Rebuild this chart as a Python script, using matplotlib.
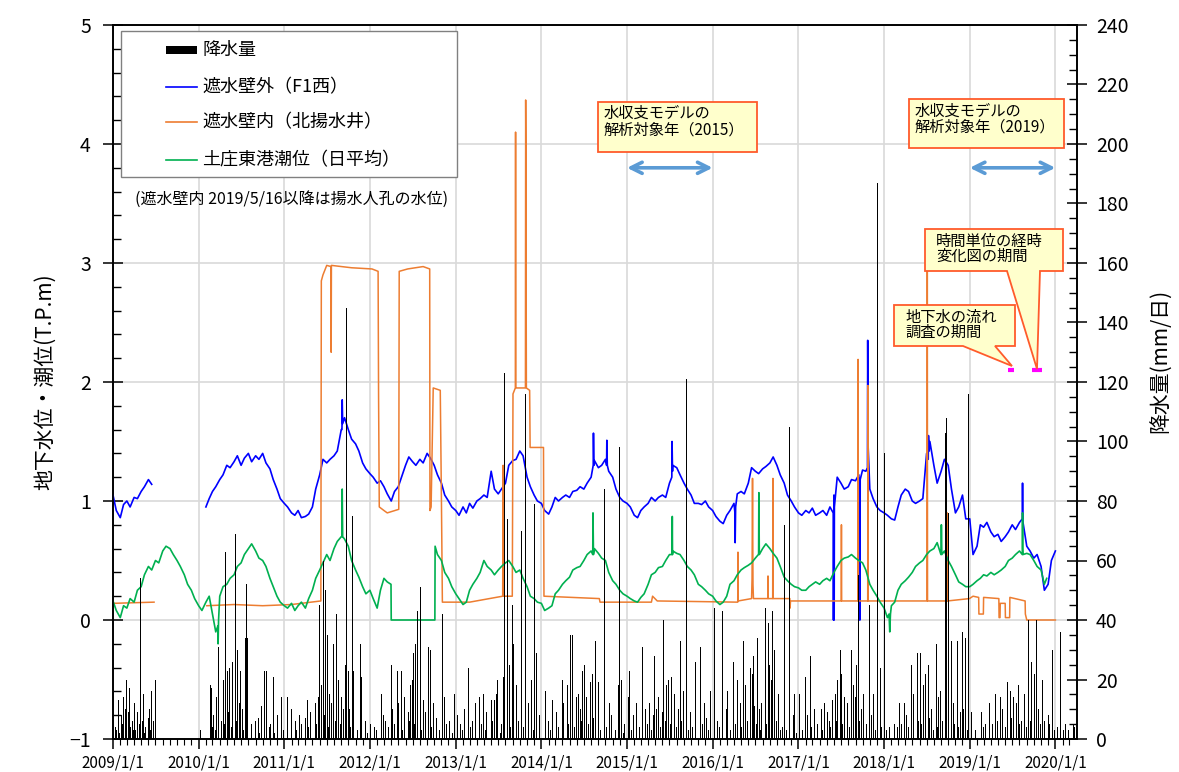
import numpy as np
import pandas as pd
import matplotlib
matplotlib.use("Agg")
import matplotlib.pyplot as plt
import matplotlib.dates as mdates
from matplotlib.patches import Rectangle, Polygon
from matplotlib.lines import Line2D

plt.rcParams['font.family'] = ['Noto Sans CJK JP', 'DejaVu Sans']

nan = np.nan

# ---------------- data ----------------
semi_dates = pd.date_range('2009-01-01', '2020-01-01', freq='SMS')  # 1st & 15th of each month

blue_level = [
    1.05, 0.92, 0.86, 0.97, 1.00, 0.95, 1.03, 1.02, 1.08, 1.12, 1.18, 1.14,
    nan, nan, nan, nan, nan, nan, nan, nan, nan, nan, nan, nan,            # 2009
    nan, nan, 0.95, 1.02, 1.08, 1.12, 1.18, 1.22, 1.30, 1.28, 1.33, 1.38,
    1.30, 1.36, 1.40, 1.33, 1.38, 1.35, 1.40, 1.32, 1.27, 1.18, 1.10, 1.02,  # 2010
    0.98, 0.95, 0.90, 0.88, 0.92, 0.86, 0.87, 0.89, 0.95, 1.10, 1.22, 1.35,
    1.32, 1.35, 1.38, 1.42, 1.60, 1.70, 1.60, 1.52, 1.48, 1.42, 1.32, 1.27,  # 2011
    1.23, 1.20, 1.15, 1.17, 1.12, 1.06, 1.00, 1.08, 1.12, 1.20, 1.30, 1.37,
    1.33, 1.30, 1.35, 1.32, 1.40, 1.36, 1.30, 1.22, 1.15, 1.05, 1.00, 0.95,  # 2012
    0.92, 0.88, 0.95, 0.90, 0.98, 0.94, 1.00, 1.02, 1.05, 1.03, 1.25, 1.10,
    1.06, 1.10, 1.15, 1.30, 1.34, 1.35, 1.42, 1.38, 1.20, 1.12, 1.05, 1.00,  # 2013
    0.98, 0.92, 0.89, 0.95, 1.03, 1.00, 1.03, 1.05, 1.03, 1.08, 1.09, 1.12,
    1.10, 1.15, 1.20, 1.34, 1.28, 1.30, 1.35, 1.25, 1.20, 1.10, 1.03, 1.00,  # 2014
    0.98, 0.95, 0.88, 0.86, 0.92, 0.95, 0.98, 1.03, 1.00, 1.03, 1.05, 1.03,
    1.15, 1.30, 1.28, 1.22, 1.15, 1.10, 1.05, 0.98, 0.98, 0.97, 1.00, 0.95,  # 2015
    0.92, 0.87, 0.83, 0.81, 0.88, 0.92, 0.98, 1.06, 1.08, 1.06, 1.15, 1.28,
    1.25, 1.23, 1.27, 1.29, 1.32, 1.37, 1.30, 1.22, 1.15, 1.05, 1.00, 0.95,  # 2016
    0.90, 0.88, 0.92, 0.90, 0.94, 0.88, 0.90, 0.92, 0.88, 0.95, 1.05, 1.20,
    1.15, 1.10, 1.12, 1.18, 1.17, 1.22, 1.26, 1.25, 1.10, 1.02, 0.95, 0.92,  # 2017
    0.90, 0.88, 0.85, 0.84, 0.95, 1.05, 1.10, 1.08, 1.00, 0.98, 1.00, 1.02,
    1.40, 1.50, 1.30, 1.15, 1.25, 1.35, 1.30, 1.10, 0.90, 0.95, 1.05, 0.85,  # 2018
    0.85, 0.55, 0.62, 0.80, 0.78, 0.82, 0.74, 0.70, 0.72, 0.66, 0.70, 0.74,
    0.80, 0.76, 0.82, 0.90, 0.62, 0.58, 0.52, 0.55, 0.45, 0.25, 0.30, 0.50,  # 2019
    0.58,                                                                    # 2020
]

blue_spikes = [
    ("2011-09-04", 1.60), ("2011-09-05", 1.85), ("2011-09-07", 1.65),
    ("2014-08-10", 1.30), ("2014-08-11", 1.57), ("2014-08-13", 1.30),
    ("2014-10-06", 1.30), ("2014-10-07", 1.51), ("2014-10-09", 1.30),
    ("2015-07-11", 1.20), ("2015-07-12", 1.50), ("2015-07-14", 1.25),
    ("2016-04-05", 0.90), ("2016-04-06", 0.65), ("2016-04-08", 0.95),
    ("2017-05-29", 0.90), ("2017-05-30", 0.00), ("2017-06-02", 0.00), ("2017-06-03", 0.95),
    ("2017-09-17", 1.15), ("2017-09-18", 0.00), ("2017-09-20", 0.00), ("2017-09-21", 1.18),
    ("2017-10-22", 1.28), ("2017-10-23", 2.35), ("2017-10-25", 1.45),
    ("2018-07-08", 1.35), ("2018-07-09", 1.55), ("2018-07-12", 1.42),
    ("2019-08-13", 0.85), ("2019-08-14", 1.15), ("2019-08-16", 0.82),
]

green_level = [
    0.16, 0.08, 0.02, 0.12, 0.10, 0.18, 0.15, 0.25, 0.28, 0.38, 0.45, 0.42,
    0.50, 0.48, 0.58, 0.62, 0.60, 0.55, 0.50, 0.45, 0.38, 0.30, 0.25, 0.18,  # 2009
    0.12, 0.08, 0.15, 0.20, 0.05, -0.10, 0.20, 0.28, 0.30, 0.35, 0.38, 0.45,
    0.48, 0.55, 0.60, 0.64, 0.58, 0.52, 0.50, 0.45, 0.35, 0.28, 0.20, 0.15,  # 2010
    0.12, 0.10, 0.14, 0.08, 0.12, 0.15, 0.10, 0.18, 0.25, 0.35, 0.42, 0.48,
    0.55, 0.50, 0.60, 0.66, 0.70, 0.68, 0.62, 0.50, 0.42, 0.36, 0.28, 0.22,  # 2011
    0.25, 0.18, 0.10, 0.25, 0.35, 0.32, 0.00, 0.00, 0.00, 0.00, 0.00, 0.00,
    0.00, 0.00, 0.00, 0.00, 0.00, 0.00, 0.00, 0.55, 0.50, 0.40, 0.35, 0.28,  # 2012
    0.22, 0.18, 0.13, 0.15, 0.25, 0.30, 0.35, 0.40, 0.50, 0.45, 0.42, 0.38,
    0.42, 0.45, 0.48, 0.50, 0.45, 0.40, 0.42, 0.35, 0.28, 0.20, 0.18, 0.15,  # 2013
    0.14, 0.08, 0.10, 0.12, 0.22, 0.25, 0.30, 0.33, 0.36, 0.42, 0.44, 0.45,
    0.50, 0.55, 0.58, 0.60, 0.56, 0.52, 0.50, 0.40, 0.33, 0.30, 0.25, 0.22,  # 2014
    0.20, 0.18, 0.16, 0.15, 0.19, 0.22, 0.30, 0.38, 0.40, 0.44, 0.45, 0.50,
    0.55, 0.58, 0.56, 0.55, 0.50, 0.45, 0.42, 0.38, 0.30, 0.28, 0.25, 0.22,  # 2015
    0.20, 0.16, 0.13, 0.15, 0.20, 0.30, 0.33, 0.38, 0.42, 0.44, 0.46, 0.48,
    0.52, 0.56, 0.60, 0.64, 0.60, 0.56, 0.52, 0.45, 0.36, 0.33, 0.30, 0.28,  # 2016
    0.27, 0.25, 0.25, 0.28, 0.30, 0.32, 0.30, 0.33, 0.35, 0.33, 0.40, 0.45,
    0.50, 0.52, 0.53, 0.55, 0.52, 0.50, 0.48, 0.42, 0.30, 0.25, 0.20, 0.15,  # 2017
    0.10, 0.02, 0.12, 0.15, 0.25, 0.30, 0.33, 0.36, 0.40, 0.45, 0.48, 0.50,
    0.55, 0.58, 0.60, 0.65, 0.62, 0.58, 0.50, 0.45, 0.38, 0.32, 0.30, 0.28,  # 2018
    0.28, 0.30, 0.33, 0.35, 0.38, 0.37, 0.40, 0.38, 0.40, 0.42, 0.45, 0.50,
    0.52, 0.55, 0.58, 0.60, 0.56, 0.55, 0.50, 0.45, 0.42, 0.30, nan, nan,    # 2019
    nan,                                                                     # 2020
]

green_spikes = [
    ("2010-03-24", -0.05), ("2010-03-25", -0.20), ("2010-03-27", 0.00),
    ("2011-09-04", 0.70), ("2011-09-05", 1.10), ("2011-09-07", 0.70),
    ("2012-03-31", 0.30),
    ("2012-10-04", 0.00), ("2012-10-05", 0.62),
    ("2014-08-08", 0.55), ("2014-08-09", 0.90), ("2014-08-11", 0.55),
    ("2015-07-12", 0.55), ("2015-07-13", 0.87), ("2015-07-14", 0.55),
    ("2016-07-14", 0.55), ("2016-07-16", 1.07), ("2016-07-18", 0.55),
    ("2018-01-22", 0.05), ("2018-01-25", -0.10), ("2018-01-28", 0.05),
    ("2018-08-31", 0.55), ("2018-09-02", 0.80), ("2018-09-04", 0.55),
    ("2019-08-13", 0.55), ("2019-08-14", 0.90), ("2019-08-16", 0.55),
    ("2019-11-25", 0.35),
]

orange_pts = [
    ("2009-01-01", 0.14), ("2009-06-25", 0.15), ("2009-06-26", nan),
    ("2010-02-05", 0.12), ("2010-06-01", 0.13), ("2010-10-01", 0.12),
    ("2011-02-01", 0.13), ("2011-06-06", 0.16), ("2011-06-08", 2.85),
    ("2011-06-15", 2.90), ("2011-07-01", 2.98), ("2011-07-19", 2.97),
    ("2011-07-20", 2.25), ("2011-07-21", 2.98), ("2011-10-15", 2.96),
    ("2012-01-10", 2.95), ("2012-02-05", 2.93), ("2012-02-07", 1.90),
    ("2012-02-10", 0.95), ("2012-03-01", 0.92), ("2012-03-15", 0.90),
    ("2012-05-03", 0.93), ("2012-05-05", 2.93), ("2012-06-10", 2.95),
    ("2012-08-15", 2.97), ("2012-09-12", 2.95), ("2012-09-13", 0.92),
    ("2012-09-18", 0.95), ("2012-09-27", 1.95), ("2012-10-27", 1.93),
    ("2012-11-01", 1.00), ("2012-11-05", 0.15), ("2013-03-01", 0.15),
    ("2013-07-20", 0.20), ("2013-07-22", 1.30), ("2013-07-25", 0.20),
    ("2013-08-30", 0.20), ("2013-09-02", 1.90), ("2013-09-12", 1.95),
    ("2013-09-13", 4.10), ("2013-09-14", 1.95), ("2013-10-25", 1.95),
    ("2013-10-26", 4.37), ("2013-10-27", 3.90), ("2013-10-29", 1.95),
    ("2013-11-12", 1.93), ("2013-11-14", 1.45), ("2014-01-10", 1.45),
    ("2014-01-12", 0.20), ("2014-09-05", 0.18), ("2014-09-08", 0.15),
    ("2015-04-15", 0.15), ("2015-04-20", 0.20), ("2015-05-10", 0.16),
    ("2016-04-17", 0.15), ("2016-04-18", 0.57), ("2016-04-19", 0.16),
    ("2016-06-15", 0.18), ("2016-06-17", 0.35), ("2016-06-19", 1.19),
    ("2016-06-21", 0.30), ("2016-06-23", 0.18), ("2016-08-23", 0.18),
    ("2016-08-24", 0.37), ("2016-08-25", 0.18), ("2016-09-13", 0.18),
    ("2016-09-14", 1.19), ("2016-09-15", 0.18), ("2016-11-25", 0.18),
    ("2016-11-26", 0.10), ("2016-11-28", 0.16), ("2017-07-02", 0.16),
    ("2017-07-03", 0.80), ("2017-07-04", 0.16), ("2017-09-11", 0.16),
    ("2017-09-12", 2.19), ("2017-09-13", 0.16), ("2017-10-23", 0.16),
    ("2017-10-24", 1.97), ("2017-10-25", 0.16), ("2018-07-03", 0.16),
    ("2018-07-04", 3.10), ("2018-07-05", 0.16), ("2018-09-26", 0.16),
    ("2018-09-27", 0.90), ("2018-09-28", 0.16), ("2018-12-31", 0.18),
    ("2019-01-15", 0.20), ("2019-02-08", 0.19), ("2019-02-09", 0.05),
    ("2019-02-28", 0.05), ("2019-03-01", 0.19), ("2019-05-05", 0.18),
    ("2019-05-06", 0.02), ("2019-05-10", 0.02), ("2019-05-11", 0.14),
    ("2019-06-01", 0.14), ("2019-06-02", 0.02), ("2019-06-20", 0.02),
    ("2019-06-21", 0.19), ("2019-08-25", 0.16), ("2019-08-26", 0.05),
    ("2019-09-01", 0.00), ("2020-01-01", 0.00),
]

rain_2009 = [("01-08", 4), ("01-15", 3), ("01-22", 13), ("02-02", 8), ("02-14", 14), ("02-20", 10),
             ("02-25", 20), ("03-05", 9), ("03-11", 17), ("03-21", 6), ("03-28", 3), ("04-01", 12),
             ("04-12", 9), ("04-20", 5), ("04-27", 54), ("05-08", 15), ("05-12", 2), ("05-19", 4),
             ("05-30", 7), ("06-05", 10), ("06-13", 16), ("06-21", 6), ("06-28", 20),
             ("01-27", 2), ("02-08", 5), ("03-16", 4), ("04-06", 3), ("05-03", 6), ("06-09", 3)]
rain_2010 = [("01-05", 3), ("02-17", 18), ("02-24", 17), ("03-05", 8), ("03-18", 14), ("03-25", 31),
             ("04-05", 6), ("04-13", 20), ("04-24", 63), ("05-01", 23), ("05-06", 9), ("05-12", 24),
             ("05-23", 26), ("06-03", 69), ("06-14", 30), ("06-20", 12), ("06-28", 23), ("07-05", 10),
             ("07-16", 34), ("07-23", 52), ("07-27", 34), ("08-11", 5), ("08-29", 6), ("09-10", 7),
             ("09-24", 11), ("10-08", 23), ("10-15", 23), ("11-01", 5), ("11-14", 21), ("12-03", 8),
             ("12-20", 14), ("02-28", 4), ("03-10", 3), ("04-18", 5), ("05-17", 4), ("06-08", 6),
             ("07-09", 3), ("09-16", 2), ("10-26", 4), ("11-20", 2), ("12-26", 3)]
rain_2011 = [("01-12", 14), ("01-30", 10), ("02-15", 6), ("03-04", 8), ("03-15", 5), ("03-29", 7),
             ("04-09", 13), ("04-20", 9), ("05-10", 12), ("05-23", 14), ("05-30", 45), ("06-05", 18),
             ("06-14", 60), ("06-25", 50), ("07-02", 35), ("07-10", 15), ("07-20", 12), ("07-27", 32),
             ("08-11", 42), ("08-20", 20), ("09-01", 14), ("09-09", 10), ("09-15", 25), ("09-21", 145),
             ("10-01", 23), ("10-05", 10), ("10-15", 75), ("10-23", 23), ("11-18", 32), ("11-25", 21),
             ("12-10", 6), ("02-22", 3), ("04-14", 4), ("05-16", 5), ("06-19", 8), ("07-06", 4),
             ("08-04", 6), ("08-27", 5), ("10-10", 4), ("11-08", 3), ("12-20", 2)]
rain_2012 = [("01-02", 5), ("01-20", 4), ("02-17", 15), ("02-28", 8), ("03-07", 6), ("03-29", 25),
             ("04-05", 10), ("04-24", 23), ("05-01", 12), ("05-12", 23), ("05-25", 14), ("06-10", 9),
             ("06-20", 18), ("06-28", 20), ("07-01", 29), ("07-12", 32), ("07-20", 43), ("07-31", 51),
             ("08-15", 13), ("08-25", 9), ("09-06", 31), ("09-13", 30), ("09-25", 12), ("10-10", 7),
             ("11-03", 42), ("11-10", 14), ("12-05", 6), ("12-25", 15), ("01-28", 3), ("03-20", 4),
             ("04-14", 5), ("05-19", 3), ("06-16", 6), ("07-07", 5), ("08-06", 3), ("09-19", 4),
             ("10-20", 3), ("11-22", 5), ("12-14", 2)]
rain_2013 = [("01-05", 8), ("01-19", 5), ("02-05", 10), ("02-21", 24), ("03-12", 6), ("03-25", 12),
             ("04-09", 14), ("04-27", 15), ("05-12", 9), ("05-30", 13), ("06-14", 13), ("06-20", 15),
             ("06-26", 20), ("07-09", 2), ("07-15", 5), ("07-22", 21), ("07-27", 123), ("08-07", 74),
             ("08-15", 25), ("08-30", 45), ("09-04", 32), ("09-15", 18), ("10-08", 70), ("10-23", 116),
             ("11-05", 12), ("11-17", 20), ("12-02", 79), ("12-10", 29), ("12-20", 8), ("01-27", 3),
             ("03-03", 4), ("04-18", 5), ("05-05", 3), ("06-05", 6), ("08-21", 4), ("09-24", 6),
             ("10-15", 4), ("11-25", 3)]
rain_2014 = [("01-15", 16), ("01-30", 6), ("02-17", 13), ("03-05", 9), ("03-29", 20), ("04-05", 12),
             ("04-20", 18), ("05-01", 35), ("05-12", 35), ("05-30", 14), ("06-05", 15), ("06-15", 10),
             ("06-25", 23), ("07-02", 25), ("07-10", 14), ("07-27", 19), ("08-05", 22), ("08-18", 33),
             ("08-29", 19), ("09-24", 84), ("09-27", 28), ("10-15", 12), ("10-25", 8), ("11-22", 18),
             ("11-28", 98), ("12-06", 20), ("12-20", 5), ("02-07", 3), ("03-14", 4), ("04-26", 5),
             ("05-22", 4), ("06-20", 6), ("07-20", 5), ("08-10", 7), ("09-10", 3), ("10-05", 4),
             ("11-10", 3), ("12-14", 2)]
rain_2015 = [("01-04", 14), ("01-11", 23), ("01-25", 8), ("02-10", 12), ("03-06", 31), ("03-20", 10),
             ("04-05", 12), ("04-20", 8), ("04-27", 28), ("05-05", 10), ("05-15", 14), ("05-30", 9),
             ("06-03", 40), ("06-15", 18), ("06-25", 20), ("07-09", 21), ("07-20", 15), ("08-05", 10),
             ("08-15", 33), ("08-26", 16), ("09-09", 121), ("09-25", 9), ("10-16", 26), ("11-10", 31),
             ("11-25", 12), ("12-05", 7), ("12-20", 16), ("01-18", 3), ("02-22", 4), ("03-28", 5),
             ("04-12", 3), ("05-22", 4), ("06-10", 6), ("07-02", 5), ("07-27", 4), ("08-20", 6),
             ("09-17", 3), ("10-05", 4), ("11-18", 5), ("12-12", 3)]
rain_2016 = [("01-08", 44), ("01-20", 6), ("02-10", 43), ("02-25", 10), ("03-03", 16), ("03-29", 26),
             ("04-13", 20), ("04-25", 12), ("05-08", 33), ("05-20", 18), ("06-07", 24), ("06-15", 22),
             ("06-20", 28), ("06-25", 11), ("07-09", 34), ("07-15", 10), ("07-27", 12), ("08-11", 44),
             ("08-22", 39), ("08-29", 25), ("09-05", 20), ("09-12", 43), ("09-20", 30), ("10-05", 15),
             ("10-16", 3), ("10-30", 72), ("11-22", 105), ("12-10", 8), ("12-13", 15), ("01-30", 4),
             ("03-15", 3), ("04-05", 5), ("05-01", 4), ("05-28", 6), ("07-02", 5), ("07-21", 3),
             ("08-16", 5), ("09-26", 6), ("10-22", 4), ("11-10", 3), ("12-22", 2)]
rain_2017 = [("01-04", 15), ("01-30", 21), ("02-05", 8), ("02-17", 28), ("03-10", 10), ("04-05", 10),
             ("04-20", 12), ("05-01", 9), ("05-10", 6), ("05-23", 13), ("06-05", 15), ("06-15", 20),
             ("06-25", 30), ("07-01", 22), ("07-13", 14), ("07-25", 12), ("08-11", 30), ("08-20", 18),
             ("08-29", 14), ("09-05", 25), ("09-13", 55), ("09-25", 10), ("10-05", 15), ("10-27", 45),
             ("11-05", 8), ("11-14", 15), ("12-01", 187), ("12-13", 24), ("12-30", 96), ("01-18", 3),
             ("02-25", 4), ("03-22", 5), ("04-12", 3), ("05-17", 4), ("06-10", 6), ("07-07", 5),
             ("08-04", 4), ("09-18", 6), ("10-14", 5), ("11-22", 3), ("12-20", 4)]
rain_2018 = [("01-22", 4), ("02-10", 5), ("03-04", 12), ("03-25", 12), ("04-05", 8), ("04-24", 25),
             ("05-05", 15), ("05-19", 29), ("06-03", 29), ("06-15", 18), ("06-25", 22), ("07-05", 25),
             ("07-20", 10), ("08-08", 32), ("08-20", 14), ("08-29", 16), ("09-16", 103), ("09-20", 108),
             ("10-01", 76), ("10-12", 33), ("10-20", 12), ("11-07", 33), ("11-20", 9), ("11-29", 36),
             ("12-05", 10), ("12-13", 34), ("12-24", 116), ("01-10", 3), ("02-26", 4), ("03-15", 5),
             ("04-14", 4), ("05-27", 6), ("06-09", 5), ("07-12", 7), ("07-28", 3), ("08-14", 4),
             ("09-06", 6), ("10-26", 5), ("11-14", 4), ("12-19", 3)]
rain_2019 = [("01-08", 9), ("02-17", 9), ("03-05", 5), ("03-25", 12), ("04-20", 15), ("05-08", 14),
             ("05-20", 10), ("06-07", 19), ("06-20", 16), ("07-05", 14), ("07-15", 12), ("07-25", 18),
             ("08-08", 6), ("08-20", 15), ("09-06", 40), ("09-21", 26), ("10-01", 22), ("10-10", 40),
             ("10-20", 10), ("11-03", 20), ("11-29", 8), ("12-05", 5), ("12-16", 30), ("01-22", 3),
             ("02-26", 4), ("04-05", 5), ("04-28", 6), ("05-30", 4), ("06-27", 7), ("07-30", 5),
             ("08-27", 4), ("09-14", 6), ("10-26", 5), ("11-15", 6), ("12-24", 3)]
rain_2020 = [("01-19", 36), ("01-08", 4), ("02-02", 3), ("02-10", 5), ("02-24", 3), ("03-14", 5),
             ("03-20", 4), ("03-27", 3)]

rain_by_year = {2009: rain_2009, 2010: rain_2010, 2011: rain_2011, 2012: rain_2012,
                2013: rain_2013, 2014: rain_2014, 2015: rain_2015, 2016: rain_2016,
                2017: rain_2017, 2018: rain_2018, 2019: rain_2019, 2020: rain_2020}

survey_periods = [("2019-06-13", "2019-07-08"), ("2019-09-23", "2019-11-04")]
model_years = [("2015-01-01", "2016-01-01"), ("2019-01-01", "2020-01-01")]

legend_labels = ["降水量", "遮水壁外（F1西）", "遮水壁内（北揚水井）", "土庄東港潮位（日平均）"]

# ---------------- build series ----------------
def merged(levels, spikes):
    s = pd.Series(levels, index=semi_dates)
    e = pd.Series([v for _, v in spikes], index=pd.to_datetime([d for d, _ in spikes]))
    return pd.concat([s, e]).sort_index()

blue = merged(blue_level, blue_spikes)
green = merged(green_level, green_spikes)
orange = pd.Series([v for _, v in orange_pts], index=pd.to_datetime([d for d, _ in orange_pts]))

rain_d, rain_v = [], []
for yr, lst in rain_by_year.items():
    for md, mm in lst:
        rain_d.append(pd.Timestamp(f"{yr}-{md}"))
        rain_v.append(mm)

# ---------------- figure ----------------
W, H = 1179, 772
fig = plt.figure(figsize=(W / 100, H / 100), dpi=100)
L, R, T, B = 113, 1076.5, 25, 739
ax = fig.add_axes([L / W, 1 - B / H, (R - L) / W, (B - T) / H])

def fx(x):
    return x / W

def fy(y):
    return 1 - y / H

C_BLUE, C_ORANGE, C_GREEN = '#0000FF', '#ED7D31', '#00B050'

ax.plot(blue.index, blue.values, color=C_BLUE, lw=1.2, zorder=3)
ax.plot(orange.index, orange.values, color=C_ORANGE, lw=1.1, zorder=4)
ax.plot(green.index, green.values, color=C_GREEN, lw=1.2, zorder=5)

for s, e in survey_periods:
    ax.plot([pd.Timestamp(s), pd.Timestamp(e)], [2.1, 2.1], color='#FF00FF', lw=3, solid_capstyle='butt', zorder=6)

for s, e in model_years:
    ax.annotate('', xy=(mdates.date2num(pd.Timestamp(e)), 3.8),
                xytext=(mdates.date2num(pd.Timestamp(s)), 3.8),
                arrowprops=dict(arrowstyle='<->', color='#5B9BD5', lw=2.6,
                                mutation_scale=20, shrinkA=0, shrinkB=0), zorder=6)

ax.set_ylim(-1, 5)
ax.set_xlim(mdates.date2num(pd.Timestamp('2009-01-01')), mdates.date2num(pd.Timestamp('2020-03-31')))
ax.set_yticks(np.arange(-1, 5.01, 1))
ax.set_yticks(np.arange(-1, 5.01, 0.2), minor=True)
ax.xaxis.set_major_locator(mdates.YearLocator())
ax.xaxis.set_minor_locator(mdates.MonthLocator())
ax.xaxis.set_major_formatter(mdates.DateFormatter('%Y/1/1'))
ax.grid(True, which='major', color='#D9D9D9', lw=1.2)
ax.set_axisbelow(True)

ax.tick_params(axis='y', which='major', direction='inout', length=14, width=1.1, labelsize=14, pad=9)
ax.tick_params(axis='y', which='minor', direction='in', length=6, width=1.0)
ax.tick_params(axis='x', which='major', direction='out', length=7, width=1.1, labelsize=11, pad=4)
ax.tick_params(axis='x', which='minor', direction='out', length=4, width=0.8)
for sp in ax.spines.values():
    sp.set_color('black')
    sp.set_linewidth(1.2)

ax.text(-0.0707, 0.5, '地下水位・潮位(T.P.m)', transform=ax.transAxes, rotation=90,
        ha='center', va='center', fontsize=15)

ax2 = ax.twinx()
ax2.vlines(rain_d, 0, rain_v, color='black', lw=0.72, antialiased=False, zorder=2)
ax2.set_ylim(0, 240)
ax2.set_yticks(np.arange(0, 241, 20))
ax2.set_yticks(np.arange(0, 241, 5), minor=True)
ax2.tick_params(axis='y', which='major', direction='inout', length=14, width=1.1, labelsize=14, pad=7)
ax2.tick_params(axis='y', which='minor', direction='in', length=6, width=1.0)
for sp in ax2.spines.values():
    sp.set_color('black')
    sp.set_linewidth(1.2)
ax2.text(1.088, 0.53, '降水量(mm/日)', transform=ax.transAxes, rotation=90,
         ha='center', va='center', fontsize=15)

# ---------------- legend (manual) ----------------
fig.add_artist(Rectangle((fx(121), fy(177)), fx(457) - fx(121), fy(31) - fy(177),
                         transform=fig.transFigure, fc='white', ec='#808080', lw=1.0, zorder=15))
fig.add_artist(Rectangle((fx(166), fy(54)), fx(197) - fx(166), fy(46) - fy(54),
                         transform=fig.transFigure, fc='black', ec='none', zorder=16))
rows = [50, 87, 122, 160]
for yy, col in zip(rows[1:], [C_BLUE, C_ORANGE, C_GREEN]):
    fig.add_artist(Line2D([fx(166), fx(197)], [fy(yy), fy(yy)], transform=fig.transFigure,
                          color=col, lw=1.2, zorder=16))
for yy, lab in zip(rows, legend_labels):
    fig.text(fx(202), fy(yy), lab, ha='left', va='center', fontsize=13, zorder=17)

fig.text(fx(135), fy(199), '(遮水壁内 2019/5/16以降は揚水人孔の水位)', ha='left', va='center',
         fontsize=11.5, zorder=17)

# ---------------- callout boxes ----------------
def callout(x0, y0, x1, y1, lines, tx, tys, wedge=None):
    verts = [(x0, y0), (x1, y0), (x1, y1)]
    if wedge is not None:
        wl, wr, tipx, tipy = wedge
        verts += [(wr, y1), (tipx, tipy), (wl, y1)]
    verts += [(x0, y1)]
    fig.add_artist(Polygon([(fx(a), fy(b)) for a, b in verts], closed=True, transform=fig.transFigure,
                           fc='#FFFFCC', ec='#FF5B2B', lw=1.3, zorder=20))
    for s, ty in zip(lines, tys):
        fig.text(fx(tx), fy(ty), s, ha='left', va='center', fontsize=11, zorder=21)

callout(598, 102, 757, 152, ['水収支モデルの', '解析対象年（2015）'], 604, [113, 130])
callout(909, 99, 1064, 148, ['水収支モデルの', '解析対象年（2019）'], 915, [111, 127])
callout(925, 229, 1063, 271, ['時間単位の経時', '変化図の期間'], 936, [241, 256],
        wedge=(1007, 1040, 1037, 369))
callout(894, 305, 1015, 346, ['地下水の流れ', '調査の期間'], 905, [317, 332],
        wedge=(963, 995, 1012, 366))

fig.savefig('out.png', dpi=100)
